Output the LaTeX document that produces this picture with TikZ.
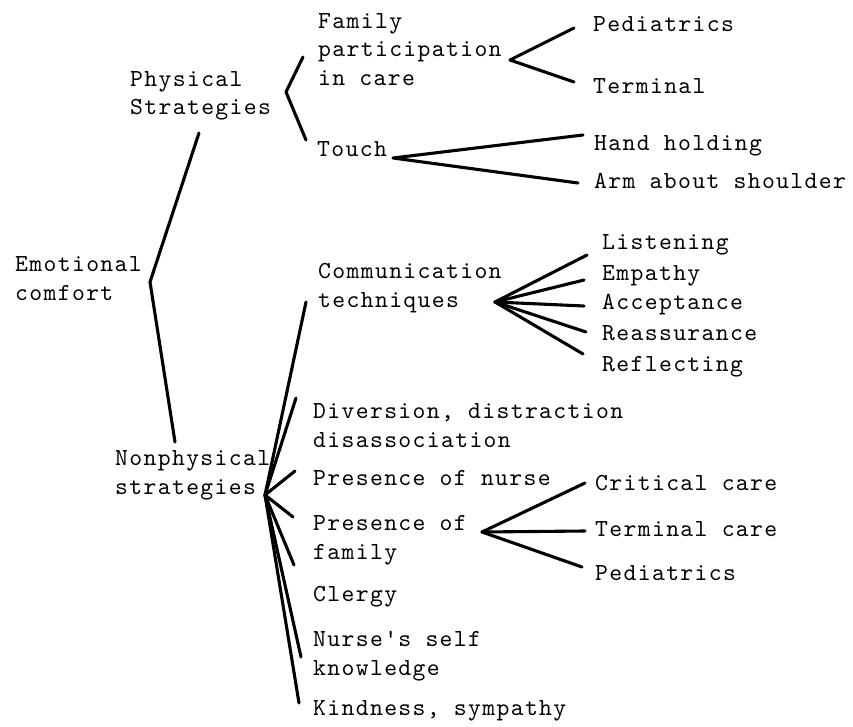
\documentclass[tikz,border=0pt]{standalone}
\usepackage{fontspec}
% typewriter face with a little extra tracking
\newfontfamily\typewriter{lmmono10-regular}[Extension=.otf, LetterSpace=5.5]
\begin{document}
\begin{tikzpicture}[x=1pt,y=-1pt,
  % multi-line labels are placed by the baseline of their last line
  label/.style={anchor=base west, inner sep=0pt, align=left,
    font=\typewriter\fontsize{24.5}{28.5}\selectfont},
  link/.style={line width=3.1pt, line cap=round, line join=round}]
\fill[white] (0,0) rectangle (853,727);
\useasboundingbox (0,0) rectangle (853,727);

% ---- labels ----
\node[label] (emo)    at (15,300)     {Emotional\\comfort};
\node[label] (phys)   at (130,115)    {Physical\\Strategies};
\node[label] (nonph)  at (115,494)    {Nonphysical\\strategies};

\node[label] (fam)    at (318,85.5)   {Family\\participation\\in care};
\node[label] (touch)  at (317,156.5)  {Touch};
\node[label] (ped)    at (593,31.5)   {Pediatrics};
\node[label] (term)   at (593,93.5)   {Terminal};
\node[label] (hand)   at (594,150.5)  {Hand holding};
\node[label] (arm)    at (594,188.5)  {Arm about shoulder};

\node[label] (comm)   at (318,307)    {Communication\\techniques};
\node[label] (listen) at (602,250)    {Listening};
\node[label] (empat)  at (602,280)    {Empathy};
\node[label] (accept) at (602,309)    {Acceptance};
\node[label] (reass)  at (602,340)    {Reassurance};
\node[label] (refl)   at (602,371.5)  {Reflecting};

\node[label] (divers) at (313,447)    {Diversion, distraction\\disassociation};
\node[label] (pnurse) at (313,485.5)  {Presence of nurse};
\node[label] (pfam)   at (313,559)    {Presence of\\family};
\node[label] (clergy) at (313,601.5)  {Clergy};
\node[label] (nself)  at (313,675)    {Nurse's self\\knowledge};
\node[label] (kind)   at (313,715.5)  {Kindness, sympathy};
\node[label] (crit)   at (595,490.5)  {Critical care};
\node[label] (termc)  at (595,536.5)  {Terminal care};
\node[label] (ped2)   at (595,580.5)  {Pediatrics};

% ---- branch points and line ends ----
\coordinate (e-top)  at (199,133);
\coordinate (e-v)    at (150,282);
\coordinate (e-bot)  at (175,442);

\coordinate (p-top)  at (303,57);
\coordinate (p-v)    at (286,92);
\coordinate (p-bot)  at (306,140);

\coordinate (f-v)    at (510,60);
\coordinate (f-a)    at (574,28);
\coordinate (f-b)    at (574,82);

\coordinate (t-v)    at (393,158);
\coordinate (t-a)    at (583,135);
\coordinate (t-b)    at (578,183);

\coordinate (c-v)    at (495,302);
\coordinate (c-1)    at (587,255);
\coordinate (c-2)    at (584,280);
\coordinate (c-3)    at (584,306);
\coordinate (c-4)    at (586,332);
\coordinate (c-5)    at (583,354);

\coordinate (n-v)    at (265,495);
\coordinate (n-comm) at (306,302);
\coordinate (n-div)  at (296,398);
\coordinate (n-pn)   at (295,471);
\coordinate (n-pf)   at (293,517);
\coordinate (n-cl)   at (294,565);
\coordinate (n-ns)   at (301,657);
\coordinate (n-kd)   at (299,703);

\coordinate (q-v)    at (482,532);
\coordinate (q-1)    at (585,483);
\coordinate (q-2)    at (585,531);
\coordinate (q-3)    at (582,567);

% ---- connectors ----
\draw[link] (e-top) -- (e-v) -- (e-bot);
\draw[link] (p-top) -- (p-v) -- (p-bot);
\draw[link] (f-a) -- (f-v) -- (f-b);
\draw[link] (t-a) -- (t-v) -- (t-b);
\foreach \k in {1,...,5} \draw[link] (c-v) -- (c-\k);
\foreach \k in {comm,div,pn,pf,cl,ns,kd} \draw[link] (n-v) -- (n-\k);
\foreach \k in {1,2,3} \draw[link] (q-v) -- (q-\k);
\end{tikzpicture}
\end{document}
